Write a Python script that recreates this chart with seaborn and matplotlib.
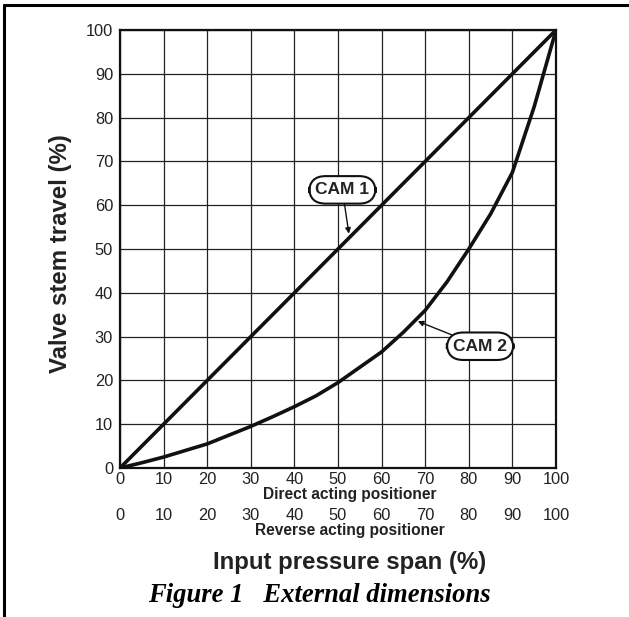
import matplotlib
matplotlib.use("Agg")
import matplotlib.pyplot as plt
import seaborn as sns
import pandas as pd
from matplotlib.lines import Line2D

# ---- data ----
input_span = [0, 5, 10, 15, 20, 25, 30, 35, 40, 45, 50, 55, 60, 65, 70, 75, 80, 85, 90, 95, 100]
cam1_travel = [0, 5, 10, 15, 20, 25, 30, 35, 40, 45, 50, 55, 60, 65, 70, 75, 80, 85, 90, 95, 100]
cam2_travel = [0, 1.2, 2.5, 4, 5.5, 7.5, 9.5, 11.7, 14, 16.5, 19.5, 23, 26.5, 31, 36, 42.5,
               50, 58, 67.5, 82.5, 100]
direct_ticks = [0, 10, 20, 30, 40, 50, 60, 70, 80, 90, 100]
reverse_ticks = [0, 10, 20, 30, 40, 50, 60, 70, 80, 90, 100]
y_ticks = [0, 10, 20, 30, 40, 50, 60, 70, 80, 90, 100]

sns.set_theme(style="white")
plt.rcParams['font.family'] = ['Liberation Sans', 'DejaVu Sans']

W, H = 629, 617
fig = plt.figure(figsize=(W / 100, H / 100), dpi=100)
fig.patch.set_facecolor("white")

def fx(px):
    return px / W

def fy(py):
    return 1 - py / H

x0, x1, ytop, ybot = 120, 556, 30, 468
ax = fig.add_axes([fx(x0), fy(ybot), fx(x1) - fx(x0), fy(ytop) - fy(ybot)])

df = pd.DataFrame({"span": input_span + input_span,
                   "travel": cam1_travel + cam2_travel,
                   "cam": ["CAM 1"] * len(input_span) + ["CAM 2"] * len(input_span)})
sns.lineplot(data=df, x="span", y="travel", hue="cam", palette=["#111111", "#111111"],
             linewidth=2.6, legend=False, ax=ax, estimator=None, sort=False)
for ln in ax.get_lines():
    ln.set_solid_capstyle("round")
    ln.set_solid_joinstyle("round")
    ln.set_zorder(5)

ax.set_xlim(0, 100)
ax.set_ylim(0, 100)
ax.set_xticks(direct_ticks)
ax.set_yticks(y_ticks)
ax.set_xticklabels([str(t) for t in direct_ticks])
ax.set_yticklabels([str(t) for t in y_ticks])
ax.grid(True, color="#222222", linewidth=0.9)
ax.set_axisbelow(True)
for s in ax.spines.values():
    s.set_color("#111111")
    s.set_linewidth(1.6)
ax.tick_params(axis="both", which="both", labelsize=11.8, colors="#222222",
               length=3, width=0.8, direction="out", pad=2)
ax.tick_params(axis="x", length=0, pad=3)
ax.set_xlabel("")
ax.set_ylabel("Valve stem travel (%)", fontsize=17.3, fontweight="bold",
              color="#222222")
ax.yaxis.set_label_coords((72 - x0) / (x1 - x0), (ybot - 254) / (ybot - ytop))

# second row of tick labels (reverse acting)
sec = ax.secondary_xaxis(location=-(517 - 480) / (ybot - ytop))
sec.set_xticks(reverse_ticks)
sec.set_xticklabels([str(t) for t in reverse_ticks])
sec.tick_params(axis="x", length=0, labelsize=11.8, colors="#222222", pad=2)
sec.spines["bottom"].set_visible(False)

fig.text(fx(350), fy(495), "Direct acting positioner", ha="center", va="center",
         fontsize=11.2, fontweight="bold", color="#222222")
fig.text(fx(350), fy(531), "Reverse acting positioner", ha="center", va="center",
         fontsize=11.2, fontweight="bold", color="#222222")
fig.text(fx(350), fy(562), "Input pressure span (%)", ha="center", va="center",
         fontsize=17.3, fontweight="bold", color="#222222")
fig.text(fx(319), fy(595), "Figure 1   External dimensions", ha="center", va="center",
         fontsize=19.2, fontweight="bold", fontstyle="italic",
         family=["Liberation Serif", "DejaVu Serif"], color="black")

# callouts
bbox = dict(boxstyle="round,pad=0.36,rounding_size=0.95", fc="white", ec="#111111", lw=1.5)
ax.annotate("CAM 1", xy=(52.5, 53.5), xytext=(51, 63.5), ha="center", va="center",
            fontsize=12.5, fontweight="bold", color="#222222", bbox=bbox, zorder=6,
            arrowprops=dict(arrowstyle="-|>", color="#111111", lw=1.0,
                            mutation_scale=8, shrinkA=0, shrinkB=0))
ax.annotate("CAM 2", xy=(68.3, 33.5), xytext=(82.6, 27.8), ha="center", va="center",
            fontsize=12.5, fontweight="bold", color="#222222", bbox=bbox, zorder=6,
            arrowprops=dict(arrowstyle="-|>", color="#111111", lw=1.0,
                            mutation_scale=8, shrinkA=0, shrinkB=0))

# page border (left and top)
fig.add_artist(Line2D([fx(4), fx(4)], [fy(5), 0], color="black", lw=2.2,
                      transform=fig.transFigure))
fig.add_artist(Line2D([fx(4), 1], [fy(5), fy(5)], color="black", lw=2.2,
                      transform=fig.transFigure))

fig.savefig("out.png", dpi=100, facecolor="white")
